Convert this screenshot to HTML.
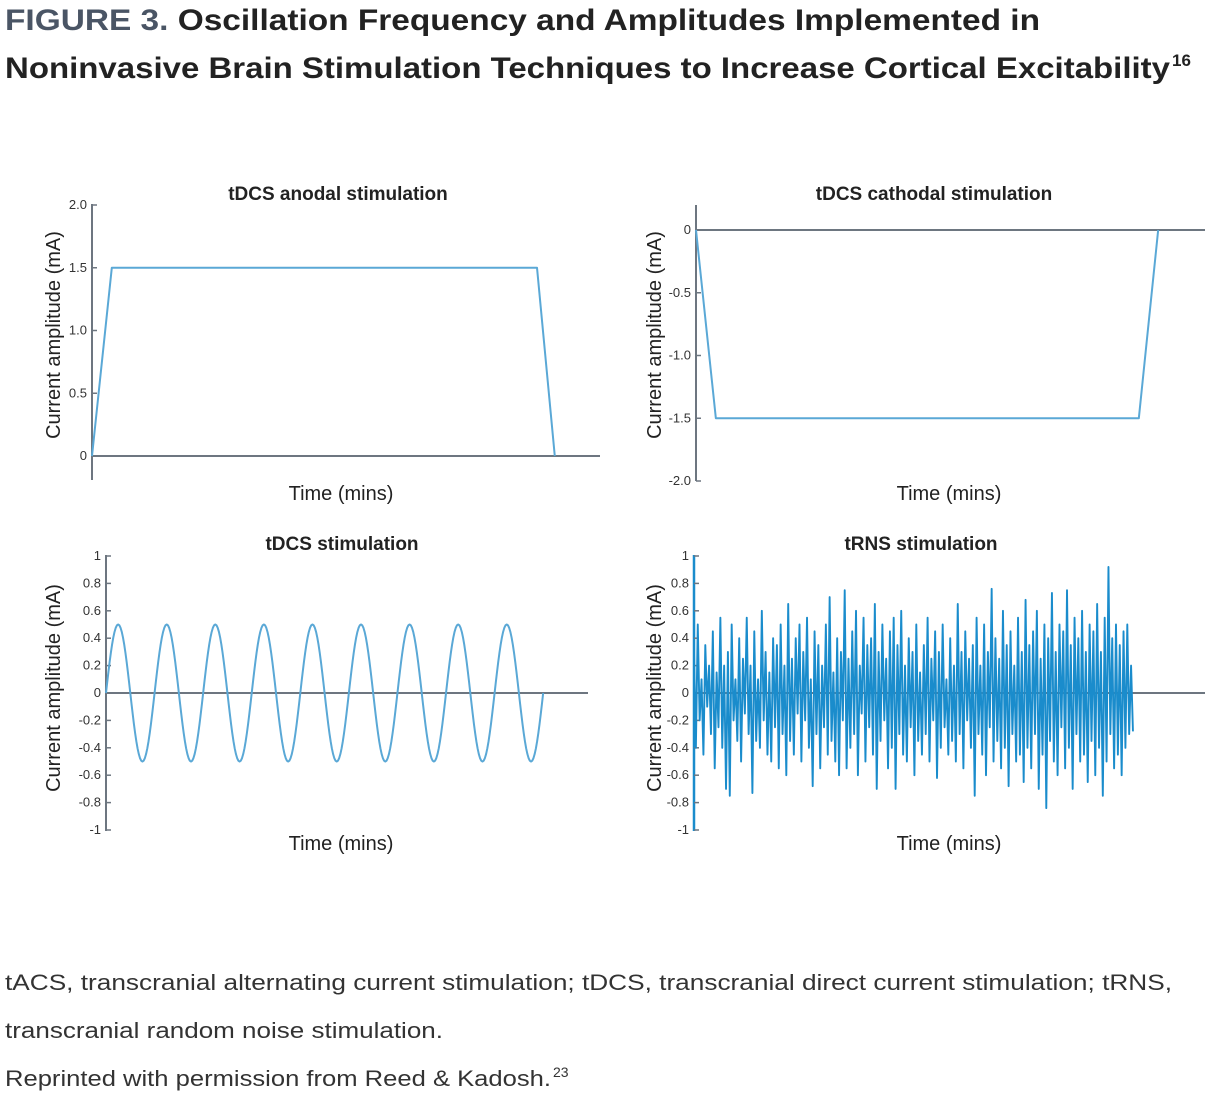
<!DOCTYPE html>
<html><head><meta charset="utf-8"><style>
html,body{margin:0;padding:0;background:#fff;}
svg{display:block;font-family:"Liberation Sans",sans-serif;}
</style></head><body>
<svg id="fig" width="1214" height="1106" viewBox="0 0 1214 1106" xmlns="http://www.w3.org/2000/svg">
<g font-weight="bold" font-size="30" fill="#222">
<text x="5" y="30" textLength="1035" lengthAdjust="spacingAndGlyphs"><tspan fill="#4a5565">FIGURE 3.</tspan> Oscillation Frequency and Amplitudes Implemented in</text>
<text x="5" y="78" textLength="1165" lengthAdjust="spacingAndGlyphs">Noninvasive Brain Stimulation Techniques to Increase Cortical Excitability</text>
<text x="1172" y="66" font-size="17">16</text>
</g>
<g id="charts"></g>
<g font-size="22" fill="#333">
<text x="5" y="990" textLength="1167" lengthAdjust="spacingAndGlyphs">tACS, transcranial alternating current stimulation; tDCS, transcranial direct current stimulation; tRNS,</text>
<text x="5" y="1038" textLength="438" lengthAdjust="spacingAndGlyphs">transcranial random noise stimulation.</text>
<text x="5" y="1086" textLength="546" lengthAdjust="spacingAndGlyphs">Reprinted with permission from Reed &amp; Kadosh.</text>
<text x="553" y="1077" font-size="14">23</text>
</g>
</svg>
<script>
// Data
const anodalTimes = [0, 3.9, 87.6, 91.1];
const anodalValues = [0, 1.5, 1.5, 0];
const anodalTicks = ["0","0.5","1.0","1.5","2.0"];
const cathodalTimes = [0, 3.9, 87, 90.8];
const cathodalValues = [0, -1.5, -1.5, 0];
const cathodalTicks = ["-2.0","-1.5","-1.0","-0.5","0"];
const sineCycles = 9;
const sineAmplitude = 0.5;
const unitTicks = ["-1","-0.8","-0.6","-0.4","-0.2","0","0.2","0.4","0.6","0.8","1"];
const noiseValues = [0.3,-0.4,0.5,-0.2,0.1,-0.45,0.35,-0.1,0.2,-0.3,0.45,-0.55,0.15,-0.25,0.55,-0.4,0.2,-0.7,0.3,-0.75,0.5,-0.2,0.1,-0.35,0.4,-0.5,0.25,-0.15,0.55,-0.3,0.2,-0.73,0.45,-0.35,0.1,-0.4,0.6,-0.2,0.3,-0.45,0.15,-0.5,0.4,-0.25,0.35,-0.55,0.5,-0.3,0.2,-0.6,0.65,-0.35,0.25,-0.45,0.4,-0.15,0.5,-0.5,0.3,-0.2,0.55,-0.4,0.1,-0.68,0.45,-0.3,0.35,-0.55,0.2,-0.25,0.5,-0.45,0.7,-0.35,0.15,-0.5,0.4,-0.6,0.3,-0.2,0.75,-0.55,0.25,-0.4,0.45,-0.3,0.6,-0.6,0.2,-0.15,0.55,-0.5,0.35,-0.25,0.4,-0.45,0.65,-0.7,0.3,-0.35,0.5,-0.2,0.25,-0.55,0.45,-0.4,0.55,-0.7,0.35,-0.3,0.6,-0.45,0.2,-0.5,0.4,-0.25,0.3,-0.6,0.5,-0.35,0.15,-0.45,0.35,-0.3,0.55,-0.5,0.25,-0.2,0.45,-0.62,0.3,-0.4,0.5,-0.25,0.1,-0.45,0.4,-0.35,0.2,-0.5,0.65,-0.3,0.3,-0.55,0.45,-0.2,0.25,-0.4,0.35,-0.75,0.55,-0.3,0.2,-0.45,0.5,-0.6,0.3,-0.25,0.76,-0.5,0.4,-0.35,0.25,-0.55,0.6,-0.4,0.35,-0.68,0.45,-0.3,0.2,-0.5,0.55,-0.45,0.3,-0.65,0.68,-0.4,0.35,-0.55,0.45,-0.3,0.6,-0.7,0.25,-0.45,0.5,-0.84,0.4,-0.35,0.73,-0.5,0.3,-0.6,0.5,-0.25,0.45,-0.55,0.75,-0.4,0.35,-0.7,0.55,-0.3,0.4,-0.5,0.6,-0.45,0.3,-0.65,0.5,-0.35,0.45,-0.6,0.65,-0.4,0.3,-0.75,0.55,-0.5,0.92,-0.3,0.4,-0.55,0.5,-0.45,0.35,-0.6,0.45,-0.4,0.5,-0.3,0.2,-0.28];

const NS = "http://www.w3.org/2000/svg";
const root = document.getElementById("charts");
const AXIS = "#6d7680", LINE = "#5aa8d6";
function mk(tag, attrs, parent){const e=document.createElementNS(NS,tag);for(const k in attrs)e.setAttribute(k,attrs[k]);(parent||root).appendChild(e);return e;}

function chart(cfg){
  const g = mk("g",{});
  
  
  const y = v => cfg.y0px + (v - cfg.yMin)/(cfg.yMax - cfg.yMin)*(cfg.y1px - cfg.y0px);
  const x = t => cfg.x0px + t/100*(cfg.x1px - cfg.x0px);
  const tt = mk("text",{x:cfg.titleX,y:cfg.titleY,"text-anchor":"middle","font-size":19,"font-weight":"bold",fill:"#222"},g);
  tt.textContent = cfg.title;
  
  
  const ya = mk("line",{x1:cfg.x0px,x2:cfg.x0px,y1:cfg.yAxisTop,y2:cfg.yAxisBottom,stroke:cfg.yAxisColor||AXIS,"stroke-width":cfg.yAxisWidth||2},g);
  
  
  cfg.ticks.forEach(lbl=>{
    const v=parseFloat(lbl), py=y(v);
    mk("line",{x1:cfg.x0px,x2:cfg.x0px+5,y1:py,y2:py,stroke:AXIS,"stroke-width":1.5},g);
    const t = mk("text",{x:cfg.x0px-5,y:py+4,"text-anchor":"end","font-size":13,fill:"#333"},g);
    t.textContent = lbl;
    
    
  });
  const xa = mk("line",{x1:cfg.x0px,x2:cfg.xAxisEnd,y1:y(0),y2:y(0),stroke:AXIS,"stroke-width":2},g);
  
  
  const yl = mk("text",{transform:`translate(${cfg.yLabelX},${cfg.yLabelY}) rotate(-90)`,"text-anchor":"middle","font-size":20,fill:"#222"},g);
  yl.textContent = "Current amplitude (mA)";
  
  
  const xl = mk("text",{x:cfg.xLabelX,y:cfg.xLabelY,"text-anchor":"middle","font-size":20,fill:"#222"},g);
  xl.textContent = "Time (mins)";
  
  
  const pts = cfg.points.map(p=>x(p[0]).toFixed(2)+","+y(p[1]).toFixed(2)).join(" ");
  const pl = mk("polyline",{points:pts,fill:"none",stroke:cfg.color||LINE,"stroke-width":cfg.lw||2,"stroke-linejoin":"round"},g);
  
  
}

chart({name:"anodal-chart",title:"tDCS anodal stimulation",titleX:338,titleY:200,
  x0px:92,x1px:600,xAxisEnd:600,y0px:456,y1px:205,yMin:0,yMax:2,yAxisTop:204,yAxisBottom:480,
  ticks:anodalTicks,yLabelX:60,yLabelY:335,xLabelX:341,xLabelY:500,
  points:anodalTimes.map((t,i)=>[t,anodalValues[i]])});

chart({name:"cathodal-chart",title:"tDCS cathodal stimulation",titleX:934,titleY:200,
  x0px:696,x1px:1205,xAxisEnd:1205,y0px:481,y1px:230,yMin:-2,yMax:0,yAxisTop:205,yAxisBottom:481,
  ticks:cathodalTicks,yLabelX:661,yLabelY:335,xLabelX:949,xLabelY:500,
  points:cathodalTimes.map((t,i)=>[t,cathodalValues[i]])});

const sinePts=[];
for(let i=0;i<=sineCycles*40;i++){const t=i/(sineCycles*40);sinePts.push([t*90.7, sineAmplitude*Math.sin(2*Math.PI*sineCycles*t)]);}
chart({name:"sine-chart",title:"tDCS stimulation",titleX:342,titleY:550,
  x0px:106,x1px:588,xAxisEnd:588,y0px:830,y1px:556,yMin:-1,yMax:1,yAxisTop:555,yAxisBottom:831,
  ticks:unitTicks,yLabelX:60,yLabelY:688,xLabelX:341,xLabelY:850,points:sinePts});

chart({name:"noise-chart",title:"tRNS stimulation",titleX:921,titleY:550,
  x0px:694,x1px:1205,xAxisEnd:1205,y0px:830,y1px:556,yMin:-1,yMax:1,yAxisTop:555,yAxisBottom:831,
  yAxisColor:"#1a8ccc",yAxisWidth:2.5,
  ticks:unitTicks,yLabelX:661,yLabelY:688,xLabelX:949,xLabelY:850,color:"#1a8ccc",lw:1.9,
  points:noiseValues.map((v,i)=>[i/(noiseValues.length-1)*85.9, v])});
</script>
</body></html>
